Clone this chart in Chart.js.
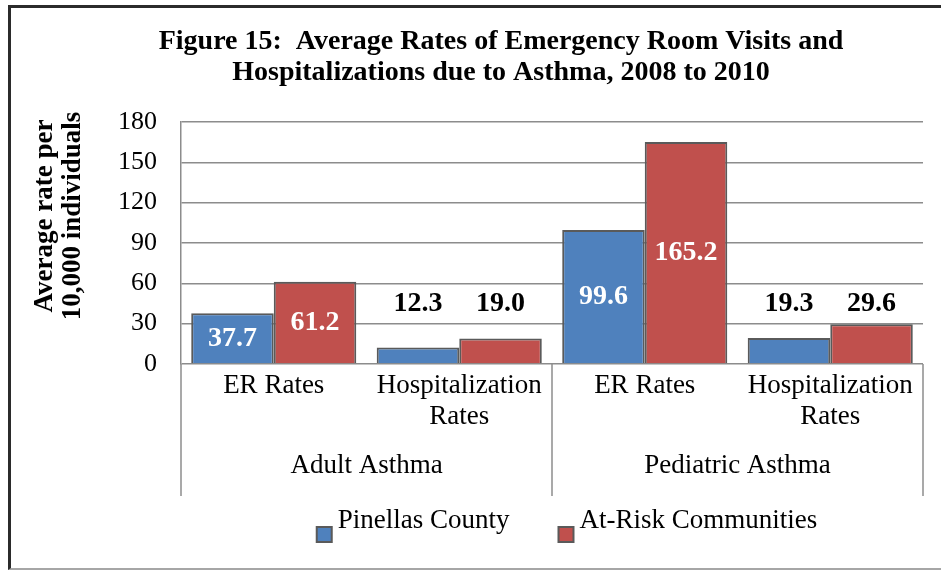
<!DOCTYPE html>
<html>
<head>
<meta charset="utf-8">
<title>Figure 15</title>
<script src="https://cdn.jsdelivr.net/npm/chart.js@4.4.0/dist/chart.umd.min.js"></script>
<style>
  html, body { margin: 0; padding: 0; background: #fff; }
  #wrap { position: relative; width: 941px; height: 571px; overflow: hidden; }
  #wrap canvas { position: absolute; left: 0; top: 0; }
  #frame {
    position: absolute; left: 8px; top: 5px; width: 1000px; height: 560px;
    border-left: 3px solid #2b2b2b; border-top: 3px solid #2b2b2b; border-bottom: 2px solid #a6a6a6;
    pointer-events: none;
  }
</style>
</head>
<body>
<div id="wrap">
  <canvas id="chart" width="941" height="571"></canvas>
  <div id="frame"></div>
</div>
<script>
// ---- data ----
const titleLines = ['Figure 15:  Average Rates of Emergency Room Visits and', 'Hospitalizations due to Asthma, 2008 to 2010'];
const yTitleLines = ['Average rate per', '10,000 individuals'];
const groups = ['Adult Asthma', 'Pediatric Asthma'];
const subCategories = [['ER Rates'], ['Hospitalization', 'Rates'], ['ER Rates'], ['Hospitalization', 'Rates']];
const pinellas = [37.7, 12.3, 99.6, 19.3];
const atRisk = [61.2, 19.0, 165.2, 29.6];
const yTicks = [0, 30, 60, 90, 120, 150, 180];

const FONT = "'Liberation Serif', 'Times New Roman', serif";
const GRID = '#8c8c8c';
const BAR_EDGE = '#5a5a5a';

// titles, group separators and legend drawn on top of the chart
const decorPlugin = {
  id: 'decor',
  afterDraw(chart) {
    const ctx = chart.ctx;
    const area = chart.chartArea;
    const x2 = chart.scales.x2;
    ctx.save();

    // vertical separators under the axis
    ctx.strokeStyle = GRID;
    ctx.lineWidth = 1.5;
    const mid = (x2.getPixelForValue(0) + x2.getPixelForValue(1)) / 2;
    [area.left, mid, area.right].forEach(px => {
      ctx.beginPath();
      ctx.moveTo(px, area.bottom);
      ctx.lineTo(px, x2.bottom);
      ctx.stroke();
    });

    ctx.fillStyle = '#000';
    ctx.textAlign = 'center';
    ctx.textBaseline = 'middle';

    // main title
    ctx.font = `bold 28px ${FONT}`;
    titleLines.forEach((t, i) => ctx.fillText(t, 501, 42 + i * 31));

    // y axis title
    ctx.save();
    ctx.translate(59, 216);
    ctx.rotate(-Math.PI / 2);
    ctx.font = `bold 27px ${FONT}`;
    yTitleLines.forEach((t, i) => ctx.fillText(t, 0, (i - 0.5) * 28));
    ctx.restore();

    // legend
    ctx.font = `27px ${FONT}`;
    ctx.textAlign = 'left';
    const box = 15, textGap = 21, spacing = 49;
    const items = chart.data.datasets.map(ds => ({ ds, w: ctx.measureText(ds.label).width }));
    const total = items.reduce((s, it) => s + textGap + it.w, 0) + spacing * (items.length - 1);
    let lx = 567 - total / 2;
    items.forEach(it => {
      ctx.fillStyle = it.ds.backgroundColor;
      ctx.fillRect(lx, 527, box, box);
      ctx.strokeStyle = BAR_EDGE;
      ctx.lineWidth = 2;
      ctx.strokeRect(lx, 527, box, box);
      ctx.fillStyle = '#000';
      ctx.fillText(it.ds.label, lx + textGap, 521);
      lx += textGap + it.w + spacing;
    });

    ctx.restore();
  },
  afterDatasetsDraw(chart) {
    const ctx = chart.ctx;
    const y = chart.scales.y;
    ctx.save();
    ctx.font = `bold 28px ${FONT}`;
    ctx.textAlign = 'center';
    ctx.textBaseline = 'middle';
    chart.data.datasets.forEach((ds, di) => {
      chart.getDatasetMeta(di).data.forEach((bar, i) => {
        const v = ds.data[i];
        const inside = v > 30;
        ctx.fillStyle = inside ? '#fff' : '#000';
        const ty = inside ? (bar.y + bar.base) / 2 : y.getPixelForValue(45);
        ctx.fillText(v.toFixed(1), bar.x, ty);
      });
    });
    ctx.restore();
  }
};

const ctx = document.getElementById('chart').getContext('2d');
const chart = new Chart(ctx, {
  type: 'bar',
  data: {
    labels: subCategories,
    datasets: [
      { label: 'Pinellas County', data: pinellas, backgroundColor: '#4F81BD', borderColor: BAR_EDGE, borderWidth: 2, xAxisID: 'x' },
      { label: 'At-Risk Communities', data: atRisk, backgroundColor: '#C0504D', borderColor: BAR_EDGE, borderWidth: 2, xAxisID: 'x' }
    ]
  },
  options: {
    responsive: false,
    maintainAspectRatio: false,
    animation: false,
    devicePixelRatio: 1,
    categoryPercentage: 0.89,
    barPercentage: 1.0,
    layout: { padding: { top: 122, left: 0, right: 18, bottom: 75 } },
    plugins: {
      legend: { display: false },
      title: { display: false },
      tooltip: { enabled: false }
    },
    scales: {
      y: {
        min: yTicks[0],
        max: yTicks[yTicks.length - 1],
        afterFit(scale) { scale.width = 181; },
        ticks: { stepSize: yTicks[1] - yTicks[0], color: '#000', padding: 24, font: { family: FONT, size: 26 } },
        grid: { color: GRID, lineWidth: 1.5, drawTicks: false },
        border: { display: true, color: GRID, width: 1.5 }
      },
      x: {
        weight: 0,
        afterFit(scale) { scale.height = 70; },
        ticks: { color: '#000', padding: 6, maxRotation: 0, autoSkip: false, font: { family: FONT, size: 27, lineHeight: 1.15 } },
        grid: { display: false, drawTicks: false },
        border: { display: false }
      },
      x2: {
        type: 'category',
        labels: groups,
        position: 'bottom',
        offset: true,
        weight: 1,
        afterFit(scale) { scale.height = 62; },
        ticks: { color: '#000', padding: 16, maxRotation: 0, font: { family: FONT, size: 27, lineHeight: 1.15 } },
        grid: { display: false, drawTicks: false },
        border: { display: false }
      }
    }
  },
  plugins: [decorPlugin]
});
</script>
</body>
</html>
